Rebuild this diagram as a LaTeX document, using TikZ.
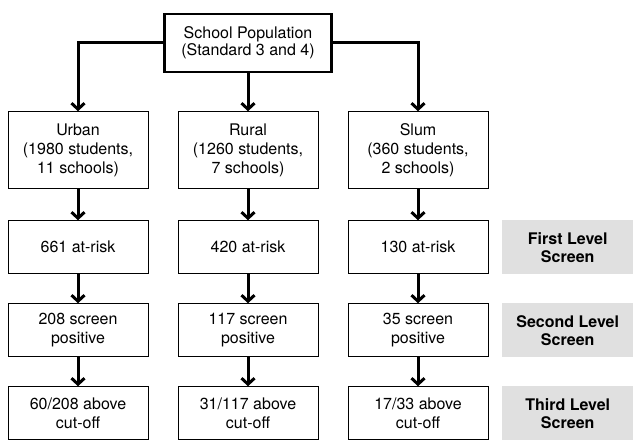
\documentclass[tikz,border=0pt]{standalone}
\usepackage{fontspec}
\setmainfont{TeX Gyre Heros}
\usetikzlibrary{arrows.meta,positioning}
\tikzset{
popbox/.style={
	  draw, line width=2.5pt, minimum width=167pt, minimum height=58pt,
	    align=center, font=\fontsize{16}{17}\selectfont},
groupbox/.style={
	  draw, line width=1pt, minimum width=140pt, minimum height=53pt,
	    align=center, font=\fontsize{16}{19}\selectfont},
levelbox/.style={
	  fill=black!12, minimum width=131pt, minimum height=54pt,
	    align=center, font=\bfseries\fontsize{16}{18}\selectfont},
flow/.style={line width=3pt, -{Straight Barb[length=6pt,width=13pt]}}
}

\begin{document}
\begin{tikzpicture}[x=1pt, y=1pt, node distance=29pt and 29pt]
	\useasboundingbox (0,0) rectangle (636,439);
	\node[popbox] (pop) at (248,396) {School Population\\(Standard 3 and 4)};
	\node[groupbox, minimum height=77pt, below=38pt of pop] (rural) {Rural\\(1260 students,\\7 schools)};
	\node[groupbox, minimum height=77pt, left=of rural] (urban) {Urban\\(1980 students,\\11 schools)};
	\node[groupbox, minimum height=77pt, right=of rural] (slum) {Slum\\(360 students,\\2 schools)};
	\node[groupbox, below=31pt of urban] (urban1) {661 at-risk};
	\node[groupbox, below=31pt of rural] (rural1) {420 at-risk};
	\node[groupbox, below=31pt of slum] (slum1) {130 at-risk};
	\node[groupbox, below=of urban1] (urban2) {208 screen\\positive};
	\node[groupbox, below=of rural1] (rural2) {117 screen\\positive};
	\node[groupbox, below=of slum1] (slum2) {35 screen\\positive};
	\node[groupbox, below=of urban2] (urban3) {60/208 above\\cut-off};
	\node[groupbox, below=of rural2] (rural3) {31/117 above\\cut-off};
	\node[groupbox, below=of slum2] (slum3) {17/33 above\\cut-off};
	\node[levelbox, right=18pt of slum1, xshift=-4.5pt] (first) {First Level\\Screen};
	\node[levelbox, right=18pt of slum2, xshift=-4.5pt] (second) {Second Level\\Screen};
	\node[levelbox, right=18pt of slum3, xshift=-4.5pt] (third) {Third Level\\Screen};
	\draw[flow] (pop.west) -| (urban.north);
	\draw[flow] (pop.east) -| (slum.north);
	\draw[flow] (pop.south) -- (rural.north);
	\foreach \col in {urban, rural, slum} {
		\draw[flow] (\col.south) -- (\col1.north);
		\draw[flow] (\col1.south) -- (\col2.north);
		\draw[flow] (\col2.south) -- (\col3.north);
	}
\end{tikzpicture}
\end{document}
